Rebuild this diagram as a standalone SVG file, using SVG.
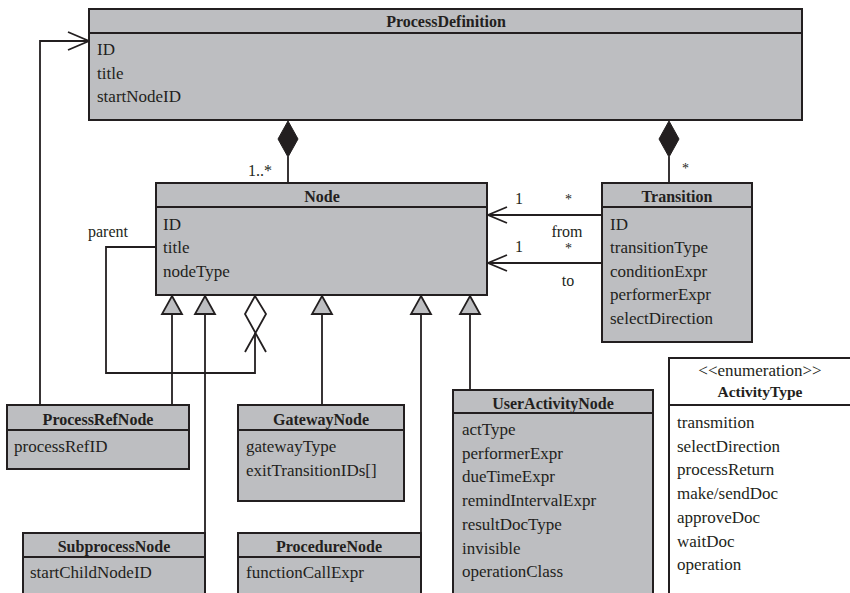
<svg xmlns="http://www.w3.org/2000/svg" width="850" height="593" viewBox="0 0 850 593">
<style>
.box{fill:#bdbec1;stroke:#231f20;stroke-width:2}
.enum{fill:#ffffff;stroke:#231f20;stroke-width:2}
.div{stroke:#231f20;stroke-width:2}
.t{font-family:"Liberation Serif","Times New Roman",serif;font-size:16px;font-weight:bold;fill:#231f20;text-anchor:middle}
.a{font-family:"Liberation Serif","Times New Roman",serif;font-size:17px;fill:#231f20}
.l{font-family:"Liberation Serif","Times New Roman",serif;font-size:16px;fill:#231f20}
.s{font-family:"Liberation Serif","Times New Roman",serif;font-size:14px;fill:#231f20}
.c{fill:none;stroke:#231f20;stroke-width:1.8}
.gen{fill:#bdbec1;stroke:#231f20;stroke-width:1.8;stroke-linejoin:miter}
.comp{fill:#231f20;stroke:#231f20;stroke-width:1}
</style>
<rect width="850" height="593" fill="#ffffff"/>

<g id="connectors">
  <!-- ProcessDefinition - Node composition -->
  <path class="c" d="M288,157 L288,183"/>
  <polygon class="comp" points="288,121 298,139 288,157 278,139"/>
  <text class="l" x="248" y="176">1..*</text>
  <!-- ProcessDefinition - Transition composition -->
  <path class="c" d="M669,157 L669,183"/>
  <polygon class="comp" points="669,121 679,139 669,157 659,139"/>
  <text class="s" x="682" y="173">*</text>
  <!-- from association -->
  <path class="c" d="M602,215 L488,215 M507,207 L488,215 L507,223"/>
  <text class="l" x="515" y="204">1</text>
  <text class="s" x="565" y="204">*</text>
  <text class="l" x="567" y="236.5" text-anchor="middle">from</text>
  <!-- to association -->
  <path class="c" d="M602,263 L488,263 M507,255 L488,263 L507,271"/>
  <text class="l" x="515" y="252">1</text>
  <text class="s" x="565" y="253">*</text>
  <text class="l" x="568" y="286" text-anchor="middle">to</text>
  <!-- parent self-association -->
  <path class="c" d="M156,247 L106,247 L106,373 L255,373 L255,333"/>
  <path class="c" d="M255,296 L245,314 L266,352 M255,296 L266,314 L245,352"/>
  <text class="l" x="88" y="237">parent</text>
  <!-- ProcessRefNode to ProcessDefinition -->
  <path class="c" d="M40,405 L40,41 L89,41 M68,32 L89,41 L68,50"/>
  <!-- generalizations -->
  <path class="c" d="M172,314 L172,405"/>
  <polygon class="gen" points="172,296 182,314 162,314"/>
  <path class="c" d="M205,314 L205,533"/>
  <polygon class="gen" points="205,296 215,314 195,314"/>
  <path class="c" d="M322,314 L322,405"/>
  <polygon class="gen" points="322,296 332,314 312,314"/>
  <path class="c" d="M421,314 L421,533"/>
  <polygon class="gen" points="421,296 431,314 411,314"/>
  <path class="c" d="M470,314 L470,390"/>
  <polygon class="gen" points="470,296 480,314 460,314"/>
</g>

<g id="ProcessDefinition">
  <rect class="box" x="89" y="9" width="713" height="111"/>
  <line class="div" x1="89" y1="33" x2="802" y2="33"/>
  <text class="t" x="446" y="27">ProcessDefinition</text>
  <text class="a" x="97" y="55">ID</text>
  <text class="a" x="97" y="79">title</text>
  <text class="a" x="97" y="102">startNodeID</text>
</g>

<g id="Node">
  <rect class="box" x="156" y="183" width="331" height="112"/>
  <line class="div" x1="156" y1="207" x2="487" y2="207"/>
  <text class="t" x="322" y="202">Node</text>
  <text class="a" x="163" y="230">ID</text>
  <text class="a" x="163" y="253">title</text>
  <text class="a" x="163" y="277">nodeType</text>
</g>

<g id="Transition">
  <rect class="box" x="602" y="183" width="150" height="159"/>
  <line class="div" x1="602" y1="207" x2="752" y2="207"/>
  <text class="t" x="677" y="202">Transition</text>
  <text class="a" x="610" y="230">ID</text>
  <text class="a" x="610" y="253">transitionType</text>
  <text class="a" x="610" y="277">conditionExpr</text>
  <text class="a" x="610" y="300">performerExpr</text>
  <text class="a" x="610" y="324">selectDirection</text>
</g>

<g id="ProcessRefNode">
  <rect class="box" x="7" y="405" width="182" height="64"/>
  <line class="div" x1="7" y1="430" x2="189" y2="430"/>
  <text class="t" x="98" y="425">ProcessRefNode</text>
  <text class="a" x="14" y="452">processRefID</text>
</g>

<g id="GatewayNode">
  <rect class="box" x="238" y="405" width="166" height="96"/>
  <line class="div" x1="238" y1="430" x2="404" y2="430"/>
  <text class="t" x="321" y="425">GatewayNode</text>
  <text class="a" x="246" y="452">gatewayType</text>
  <text class="a" x="246" y="476">exitTransitionIDs[]</text>
</g>

<g id="SubprocessNode">
  <rect class="box" x="23" y="533" width="182" height="80"/>
  <line class="div" x1="23" y1="557" x2="205" y2="557"/>
  <text class="t" x="114" y="552">SubprocessNode</text>
  <text class="a" x="30" y="578">startChildNodeID</text>
</g>

<g id="ProcedureNode">
  <rect class="box" x="238" y="533" width="183" height="80"/>
  <line class="div" x1="238" y1="557" x2="421" y2="557"/>
  <text class="t" x="329" y="552">ProcedureNode</text>
  <text class="a" x="246" y="578">functionCallExpr</text>
</g>

<g id="UserActivityNode">
  <rect class="box" x="453" y="390" width="200" height="223"/>
  <line class="div" x1="453" y1="413" x2="653" y2="413"/>
  <text class="t" x="553" y="409">UserActivityNode</text>
  <text class="a" x="462" y="435">actType</text>
  <text class="a" x="462" y="459">performerExpr</text>
  <text class="a" x="462" y="482">dueTimeExpr</text>
  <text class="a" x="462" y="506">remindIntervalExpr</text>
  <text class="a" x="462" y="530">resultDocType</text>
  <text class="a" x="462" y="554">invisible</text>
  <text class="a" x="462" y="577">operationClass</text>
</g>

<g id="ActivityType">
  <rect class="enum" x="669" y="358" width="200" height="260"/>
  <line class="div" x1="669" y1="405" x2="850" y2="405"/>
  <text class="a" x="760" y="376" text-anchor="middle">&lt;&lt;enumeration&gt;&gt;</text>
  <text class="t" x="760" y="397" style="font-size:15.5px">ActivityType</text>
  <text class="a" x="677" y="428">transmition</text>
  <text class="a" x="677" y="452">selectDirection</text>
  <text class="a" x="677" y="475">processReturn</text>
  <text class="a" x="677" y="499">make/sendDoc</text>
  <text class="a" x="677" y="523">approveDoc</text>
  <text class="a" x="677" y="547">waitDoc</text>
  <text class="a" x="677" y="570">operation</text>
</g>
</svg>
